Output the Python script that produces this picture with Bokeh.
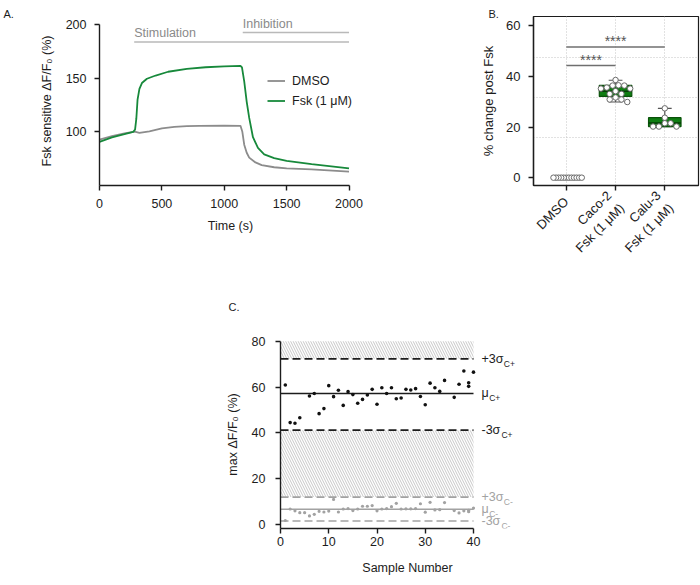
import math
from bokeh.plotting import figure
from bokeh.models import Label, Legend, LegendItem, FixedTicker, Range1d, Spacer, Title
from bokeh.layouts import row, column
from bokeh.embed import file_html
from bokeh.resources import INLINE
from bokeh.core.properties import value

FONT = "Liberation Sans"

# ---------------- Panel A data ----------------
a_series = ["DMSO", "Fsk (1 μM)"]
time_dmso = [0, 100, 200, 270, 290, 320, 400, 500, 600, 700, 800, 1000, 1130,
             1145, 1160, 1180, 1200, 1250, 1300, 1400, 1500, 1700, 2000]
dmso_trace = [92.8, 96.0, 98.5, 100.0, 100.0, 99.0, 100.5, 103.3, 104.6, 105.3,
              105.6, 105.7, 105.6, 100.0, 88.0, 80.5, 76.0, 71.5, 69.0, 67.0,
              66.0, 65.0, 63.0]
time_fsk = [0, 100, 200, 270, 285, 295, 305, 320, 340, 380, 450, 550, 700, 850,
            1000, 1130, 1142, 1160, 1180, 1200, 1230, 1270, 1320, 1400, 1500,
            1700, 2000]
fsk_trace = [90.7, 94.8, 97.8, 100.0, 102.0, 112.0, 130.0, 140.0, 145.5, 149.5,
             152.5, 156.0, 158.7, 160.2, 161.0, 161.5, 160.0, 147.0, 128.0,
             113.0, 95.0, 85.0, 79.0, 75.5, 73.0, 70.0, 66.0]
phase_names = ["Stimulation", "Inhibition"]
phase_start = [278, 1148]
phase_end = [2000, 2000]
phase_level = [183.7, 192.5]
a_xticks = [0, 500, 1000, 1500, 2000]
a_yticks = [100, 150, 200]

# ---------------- Panel B data ----------------
b_categories = ["DMSO", "Caco-2\nFsk (1 μM)", "Calu-3\nFsk (1 μM)"]
dmso_change = [0.0] * 12
caco2_change = [38.6, 36.5, 36.4, 36.4, 35.6, 35.2, 35.2, 34.2, 33.1, 33.1,
                31.7, 30.9, 30.9, 29.9]
calu3_change = [27.4, 23.7, 21.5, 21.5, 20.2, 20.2, 20.2]
box_groups = [1, 2]
box_low = [29.9, 20.2]
box_q1 = [32.1, 20.2]
box_median = [34.2, 21.6]
box_q3 = [36.5, 23.7]
box_high = [38.5, 27.4]
sig_from = [0, 0]
sig_to = [1, 2]
sig_level = [44.3, 51.6]
sig_text = ["****", "****"]
b_yticks = [0, 20, 40, 60]
b_grid_levels = [15.8, 31.6, 47.4]

# ---------------- Panel C data ----------------
pos_sample = [1, 2, 3, 4, 6, 7, 8, 9, 10, 11, 12, 13, 14, 15, 16, 17, 18, 19,
              20, 21, 22, 23, 24, 25, 26, 27, 28, 29, 30, 31, 32, 33, 34, 36,
              37, 38, 39, 39, 40]
pos_max = [60.9, 44.5, 44.2, 46.6, 56.1, 57.2, 48.4, 50.6, 60.6, 55.8, 58.6,
           52.0, 58.0, 56.7, 52.9, 54.6, 56.5, 59.0, 52.5, 59.7, 57.2, 59.7,
           54.9, 55.2, 59.0, 58.7, 59.3, 55.9, 52.3, 61.7, 59.7, 58.1, 62.9,
           55.5, 61.2, 67.0, 61.9, 60.3, 66.5]
neg_sample = [1, 2, 3, 4, 5, 6, 7, 8, 9, 10, 11, 12, 13, 14, 15, 16, 17, 18,
              19, 20, 21, 22, 23, 24, 25, 26, 27, 28, 29, 30, 31, 32, 33, 34,
              36, 37, 38, 39, 39, 40]
neg_max = [1.8, 6.8, 6.0, 5.2, 5.2, 3.8, 4.5, 5.8, 5.5, 5.9, 11.0, 5.5, 6.8,
           7.0, 6.1, 6.8, 8.0, 8.0, 8.3, 6.0, 6.8, 7.0, 7.8, 9.3, 6.8, 6.9,
           6.9, 7.0, 9.1, 5.4, 9.7, 6.4, 6.5, 9.6, 6.1, 5.1, 6.0, 6.2, 5.6, 7.2]
c_symbols = ["+3σ", "μ", "-3σ"]
c_pos_limits = [72.3, 57.2, 41.2]
c_neg_limits = [12.0, 6.7, 1.6]
c_group_names = ["C+", "C-"]
c_xticks = [0, 10, 20, 30, 40]
c_yticks = [0, 20, 40, 60, 80]

# ---------------- styles ----------------
INK = "#1c1c1c"
GREEN_LINE = "#17893b"
GRAY_LINE = "#8c8c8c"
BOX_FILL = "#0f7d12"
BOX_EDGE = "#0a520a"
NEG_GRAY = "#a2a2a2"
ROW1_H = 270


def style_axis(ax, standoff, label_standoff, size="12.5px"):
    ax.axis_line_color = INK
    ax.axis_line_width = 1.4
    ax.major_tick_line_color = INK
    ax.major_tick_line_width = 1.4
    ax.major_tick_out = 5
    ax.major_tick_in = 0
    ax.minor_tick_line_color = None
    ax.major_label_text_font = FONT
    ax.major_label_text_font_size = size
    ax.major_label_text_color = INK
    ax.axis_label_text_font = FONT
    ax.axis_label_text_font_size = size
    ax.axis_label_text_font_style = "normal"
    ax.axis_label_text_color = INK
    ax.major_label_standoff = standoff
    ax.axis_label_standoff = label_standoff


def panel_title(p, text, offset, standoff):
    p.add_layout(Title(text=text, align="left", offset=offset, standoff=standoff,
                       text_font=FONT, text_font_size="11px", text_font_style="normal",
                       text_color=INK), "above")


# ================= Panel A =================
pa = figure(width=478, height=ROW1_H, x_range=Range1d(0, 2100), y_range=Range1d(50, 207.5),
            output_backend="svg", toolbar_location=None,
            min_border_left=99, min_border_right=117, min_border_top=16,
            min_border_bottom=ROW1_H - 16 - 175)
pa.outline_line_color = None
pa.grid.grid_line_color = None
pa.xaxis.ticker = FixedTicker(ticks=a_xticks)
pa.yaxis.ticker = FixedTicker(ticks=a_yticks)
pa.xaxis.bounds = (a_xticks[0], a_xticks[-1])
pa.yaxis.bounds = (50, a_yticks[-1])
pa.xaxis.axis_label = "Time (s)"
pa.yaxis.axis_label = "Fsk sensitive ΔF/F₀ (%)"
style_axis(pa.xaxis[0], 8, 8)
style_axis(pa.yaxis[0], 8, 9)

pa.segment(x0=phase_start, y0=phase_level, x1=phase_end, y1=phase_level,
           line_color="#b9b9b9", line_width=1.5)
for name, xs, lv in zip(phase_names, phase_start, phase_level):
    pa.add_layout(Label(x=xs, y=lv, y_offset=2, text=name, text_font=FONT,
                        text_font_size="12.5px", text_color="#8a8a8a",
                        text_baseline="bottom", text_align="left"))

r_dmso = pa.line(time_dmso, dmso_trace, line_color=GRAY_LINE, line_width=1.8)
r_fsk = pa.line(time_fsk, fsk_trace, line_color=GREEN_LINE, line_width=1.8)
legend = Legend(items=[LegendItem(label=a_series[0], renderers=[r_dmso]),
                       LegendItem(label=a_series[1], renderers=[r_fsk])],
                location=(168, 76), border_line_color=None, background_fill_alpha=0,
                padding=0, margin=0, spacing=3, glyph_width=18, glyph_height=17,
                label_height=17, label_standoff=7, label_text_font=FONT,
                label_text_font_size="12.5px", label_text_color=INK)
pa.add_layout(legend)
panel_title(pa, "A.", -96, -6)

# ================= Panel B =================
B_W = 222
B_L, B_R, B_T = 51, 2, 15
B_B = ROW1_H - B_T - 170
bx0, bx1 = -0.667, 2.685
by0, by1 = -3.1, 63.7
pb = figure(width=B_W, height=ROW1_H, x_range=Range1d(bx0, bx1), y_range=Range1d(by0, by1),
            output_backend="svg", toolbar_location=None,
            min_border_left=B_L, min_border_right=B_R, min_border_top=B_T,
            min_border_bottom=B_B)
pb.outline_line_color = INK
pb.outline_line_width = 1.2
pb.xgrid.ticker = FixedTicker(ticks=list(range(len(b_categories))))
pb.ygrid.ticker = FixedTicker(ticks=b_grid_levels)
pb.grid.grid_line_color = "#c4c4c4"
pb.grid.grid_line_dash = "1 2"
pb.xaxis.ticker = FixedTicker(ticks=list(range(len(b_categories))))
pb.xaxis.major_label_overrides = {i: c for i, c in enumerate(b_categories)}
pb.xaxis.major_label_orientation = math.pi / 4
pb.yaxis.ticker = FixedTicker(ticks=b_yticks)
pb.yaxis.axis_label = "% change post Fsk"
style_axis(pb.xaxis[0], 9, 5, "13px")
style_axis(pb.yaxis[0], 8, 7, "13px")

# significance bars
pb.segment(x0=sig_from, y0=sig_level, x1=sig_to, y1=sig_level,
           line_color="#6f6f6f", line_width=1.5)
pb.text(x=[(a + b) / 2 for a, b in zip(sig_from, sig_to)], y=sig_level, text=sig_text,
        text_align="center", text_baseline="bottom", text_font=value(FONT),
        text_font_size="14px", text_color="#555555", y_offset=2)

# boxes
half = 0.33
cap = 0.14
WH = "#555555"
pb.segment(x0=box_groups, y0=box_low, x1=box_groups, y1=box_q1, line_color=WH, line_width=1.2)
pb.segment(x0=box_groups, y0=box_q3, x1=box_groups, y1=box_high, line_color=WH, line_width=1.2)
pb.segment(x0=[g - cap for g in box_groups], y0=box_high, x1=[g + cap for g in box_groups],
           y1=box_high, line_color=WH, line_width=1.2)
pb.segment(x0=[g - cap for g in box_groups], y0=box_low, x1=[g + cap for g in box_groups],
           y1=box_low, line_color=WH, line_width=1.2)
pb.vbar(x=box_groups, width=2 * half, bottom=box_q1, top=box_q3,
        fill_color=BOX_FILL, line_color=BOX_EDGE, line_width=1.2)
pb.segment(x0=[g - half for g in box_groups], y0=box_median, x1=[g + half for g in box_groups],
           y1=box_median, line_color="#063d06", line_width=1.5)

# swarm layout of points (collision-based, compressed to the box width)
frame_w = B_W - B_L - B_R
frame_h = ROW1_H - B_T - B_B
px_cat = frame_w / (bx1 - bx0)
px_val = frame_h / (by1 - by0)
MARK = 5.5


def swarm(vals, center, diam=MARK, step=3.0, limit_px=half * px_cat * 0.95):
    placed = []
    seq = [0]
    for j in range(1, 60):
        seq += [j, -j]
    for v in vals:
        vy = v * px_val
        for k in seq:
            dx = k * step
            if all((dx - px) ** 2 + (vy - py) ** 2 >= diam ** 2 - 1e-6 for px, py in placed):
                placed.append((dx, vy))
                break
    widest = max(abs(px) for px, _ in placed) or 1.0
    scale = min(1.0, limit_px / widest)
    return [center + px * scale / px_cat for px, _ in placed]


for gi, vals in enumerate([dmso_change, caco2_change, calu3_change]):
    pb.scatter(x=swarm(vals, gi), y=vals, size=MARK, marker="circle",
               fill_color="white", line_color="#6a6a6a", line_width=1)
panel_title(pb, "B.", -45, -7)

# ================= Panel C =================
C_W = 330
C_L, C_R, C_T, C_B = 72, 4, 69, 49
C_H = C_T + 189 + C_B
c_frame_w = C_W - C_L - C_R
c_px_per_x = 4.825
cx0, cx1 = 0, c_frame_w / c_px_per_x
cy0, cy1 = -1.7, 80.3
pc = figure(width=C_W, height=C_H, x_range=Range1d(cx0, cx1), y_range=Range1d(cy0, cy1),
            output_backend="svg", toolbar_location=None,
            min_border_left=C_L, min_border_right=C_R, min_border_top=C_T,
            min_border_bottom=C_B)
pc.outline_line_color = None
pc.grid.grid_line_color = None
pc.xaxis.ticker = FixedTicker(ticks=c_xticks)
pc.yaxis.ticker = FixedTicker(ticks=c_yticks)
pc.xaxis.bounds = (c_xticks[0], c_xticks[-1])
pc.yaxis.bounds = (cy0, c_yticks[-1])
pc.xaxis.axis_label = "Sample Number"
pc.yaxis.axis_label = "max ΔF/F₀ (%)"
style_axis(pc.xaxis[0], 3, 12)
style_axis(pc.yaxis[0], 10, 9)

xl, xr = c_xticks[0], c_xticks[-1]
# out-of-control (hatched) zones
pc.quad(left=[xl, xl], right=[xr, xr],
        bottom=[c_pos_limits[0], c_neg_limits[0]],
        top=[c_yticks[-1], c_pos_limits[2]],
        fill_color=None, line_color=None, hatch_pattern="\\",
        hatch_color="#c8c8c8", hatch_scale=5, hatch_weight=1.0)

char_w = {"+": 0.584, "-": 0.4, "3": 0.556, "σ": 0.6, "μ": 0.576}
for limits, color, grp, lw in [(c_pos_limits, INK, c_group_names[0], 1.8),
                               (c_neg_limits, NEG_GRAY, c_group_names[1], 1.6)]:
    for sym, lv in zip(c_symbols, limits):
        dash = "solid" if sym == "μ" else "8 4"
        pc.segment(x0=[xl], y0=[lv], x1=[xr], y1=[lv], line_color=color,
                   line_width=lw if sym != "μ" else lw - 0.2, line_dash=dash)
        pc.add_layout(Label(x=xr, y=lv, x_offset=8, text=sym, text_font=FONT,
                            text_font_size="12.5px", text_color=color,
                            text_baseline="middle", text_align="left"))
        w = sum(char_w.get(ch, 0.55) for ch in sym) * 12.5
        pc.add_layout(Label(x=xr, y=lv, x_offset=8 + w + 0.5, y_offset=-5, text=grp,
                            text_font=FONT, text_font_size="8.5px", text_color=color,
                            text_baseline="middle", text_align="left"))

pc.scatter(x=neg_sample, y=neg_max, size=3.2, marker="circle",
           fill_color=NEG_GRAY, line_color=None)
pc.scatter(x=pos_sample, y=pos_max, size=3.6, marker="circle",
           fill_color="#111111", line_color=None)
panel_title(pc, "C.", -52, 56)

layout = column(row(pa, pb), row(Spacer(width=208, height=C_H), pc))
open("out.html", "w").write(file_html(layout, INLINE))
